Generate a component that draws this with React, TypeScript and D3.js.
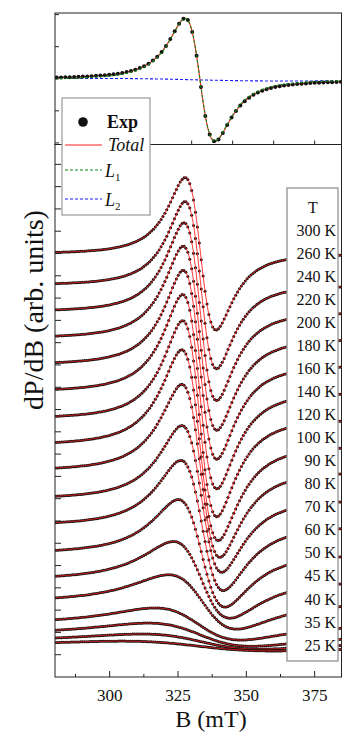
import React from 'react';
import * as d3 from 'd3';

// ---------- data ----------
// legend of temperatures (top to bottom)
const temperatureLabels = ['300 K', '260 K', '240 K', '220 K', '200 K', '180 K', '160 K', '140 K', '120 K', '100 K', '90 K', '80 K', '70 K', '60 K', '50 K', '45 K', '40 K', '35 K', '25 K'];

// stacked spectra (top to bottom): zero level, peak amplitude, field of positive peak, field of negative peak (mT)
const curveOffset = [18.99, 17.58, 16.39, 15.2, 14.01, 12.8, 11.59, 10.4, 9.25, 7.99, 6.8, 5.55, 4.36, 3.37, 2.38, 1.9, 1.59, 1.39];
const curveAmplitude = [3.42, 3.75, 3.99, 4.13, 4.24, 4.36, 4.4, 4.28, 3.88, 3.29, 2.92, 2.41, 1.72, 1.22, 0.72, 0.52, 0.34, 0.22];
const curvePeakB = [327.6, 327.6, 327.2, 326.9, 326.9, 326.7, 326.7, 326.4, 326.4, 326.4, 326.0, 325.1, 323.3, 321.5, 316.6, 314.1, 311.7, 304.4];
const curveTroughB = [338.9, 339.1, 339.1, 339.2, 339.2, 339.2, 339.2, 339.7, 340.3, 341.0, 341.6, 342.2, 344.0, 346.5, 348.0, 352.0, 355.0, 360.0];

// inset decomposition: L1 (narrow) and L2 (broad)
const insetL1 = { amplitude: 1.91, peakB: 327.6, troughB: 338.5 };
const insetL2 = { amplitude: 0.04, peakB: 295.4, troughB: 364.6 };
const insetOffset = -0.03;

const xTicksMajor = [300, 325, 350, 375];
const xTicksMinor = [287.5, 312.5, 337.5, 362.5];
const insetXTicks = [330, 345, 360, 375];
const mainYTicks = d3.range(1, 24);
const insetYTicks = [-2, -1, 0, 1, 2];

// derivative-of-Lorentzian line shape
function lorentzDeriv(B: number, amp: number, peakB: number, troughB: number) {
  const B0 = (peakB + troughB) / 2;
  const hw = (troughB - peakB) / 2;
  const G = hw * Math.sqrt(3);
  const d = B - B0;
  const c = (16 * Math.sqrt(3) * G * G * G) / 9;
  return (-amp * c * d) / Math.pow(d * d + G * G, 2);
}

const FONT = '"Liberation Serif", "Times New Roman", Times, serif';

export default function App() {
  const L = 55, R = 341.5;
  const topT = 13, topB = 144.5, mainB = 677;
  const x = d3.scaleLinear().domain([280, 385]).range([55, 342]);
  const yMain = d3.scaleLinear().domain([0, 23.89]).range([mainB, topB]);
  const yTop = d3.scaleLinear().domain([-2.05, 2.05]).range([topB, topT]);

  const lineGrid = d3.range(280, 385.01, 0.25);
  const dotGridMain = d3.range(280.3, 385, 0.7);
  const dotGridTop = d3.range(280.6, 385, 1.6);

  const mainLine = d3.line<[number, number]>().x(d => x(d[0])).y(d => yMain(d[1]));
  const topLine = d3.line<[number, number]>().x(d => x(d[0])).y(d => yTop(d[1]));

  const spectra = curveOffset.map((off, i) => {
    const f = (B: number) => off + lorentzDeriv(B, curveAmplitude[i], curvePeakB[i], curveTroughB[i]);
    return {
      line: mainLine(lineGrid.map(B => [B, f(B)] as [number, number])) || '',
      dots: dotGridMain.map(B => [B, f(B)] as [number, number]),
    };
  });

  const l1 = (B: number) => lorentzDeriv(B, insetL1.amplitude, insetL1.peakB, insetL1.troughB);
  const l2 = (B: number) => lorentzDeriv(B, insetL2.amplitude, insetL2.peakB, insetL2.troughB);
  const total = (B: number) => insetOffset + l1(B) + l2(B);
  const topTotal = topLine(lineGrid.map(B => [B, total(B)] as [number, number])) || '';
  const topL1 = topLine(lineGrid.map(B => [B, insetOffset + l1(B)] as [number, number])) || '';
  const topL2 = topLine(lineGrid.map(B => [B, insetOffset + l2(B)] as [number, number])) || '';

  const legendRowY = (i: number) => 207 + 23.06 * i;

  return (
    <svg width={342} height={735} style={{ position: 'absolute', left: 0, top: 0, background: '#fff', fontFamily: FONT }}>
      <defs>
        <clipPath id="clipMain"><rect x={L} y={topB} width={R - L} height={mainB - topB} /></clipPath>
        <clipPath id="clipTop"><rect x={L} y={topT} width={R - L} height={topB - topT} /></clipPath>
      </defs>

      {/* inset panel */}
      <g clipPath="url(#clipTop)">
        <path d={topL2} fill="none" stroke="#1a1aff" strokeWidth={1.1} strokeDasharray="3,2" />
        <path d={topTotal} fill="none" stroke="#ff2020" strokeWidth={1.1} />
        {dotGridTop.map((B, j) => (
          <circle key={j} cx={x(B)} cy={yTop(total(B))} r={2} fill="#111" />
        ))}
        <path d={topL1} fill="none" stroke="#118811" strokeWidth={1.1} strokeDasharray="3,2" />
      </g>
      <rect x={L} y={topT} width={R - L} height={topB - topT} fill="none" stroke="#222" strokeWidth={1} />
      {insetYTicks.map(v => (
        <line key={v} x1={L} x2={L + 4} y1={yTop(v)} y2={yTop(v)} stroke="#222" />
      ))}
      {insetXTicks.map(v => (
        <line key={v} x1={x(v)} x2={x(v)} y1={topB} y2={topB - 4} stroke="#222" />
      ))}

      {/* main panel */}
      <g clipPath="url(#clipMain)">
        {spectra.map((s, i) => (
          <g key={i}>
            {s.dots.map((d, j) => (
              <circle key={j} cx={x(d[0])} cy={yMain(d[1])} r={1.5} fill="#111" />
            ))}
            <path d={s.line} fill="none" stroke="#ff2020" strokeWidth={0.9} />
          </g>
        ))}
      </g>
      <rect x={L} y={topB} width={R - L} height={mainB - topB} fill="none" stroke="#222" strokeWidth={1} />
      {mainYTicks.map(v => (
        <line key={v} x1={L} x2={L + 6} y1={yMain(v)} y2={yMain(v)} stroke="#222" />
      ))}
      {xTicksMajor.map(v => (
        <line key={v} x1={x(v)} x2={x(v)} y1={mainB} y2={mainB - 6} stroke="#222" />
      ))}
      {xTicksMinor.map(v => (
        <line key={v} x1={x(v)} x2={x(v)} y1={mainB} y2={mainB - 3} stroke="#222" />
      ))}
      {xTicksMajor.map(v => (
        <text key={v} x={x(v)} y={701} fontSize={17} textAnchor="middle" fill="#111">{v}</text>
      ))}
      <text x={211} y={727} fontSize={24} textAnchor="middle" fill="#111">B (mT)</text>
      <text transform="translate(43,310) rotate(-90)" fontSize={28} textAnchor="middle" fill="#111">dP/dB (arb. units)</text>

      {/* series legend */}
      <rect x={62} y={98} width={88} height={117} fill="#fff" stroke="#999" strokeWidth={1.2} />
      <circle cx={83} cy={122} r={4.8} fill="#111" />
      <text x={107} y={128} fontSize={18} fontWeight="bold" fill="#111">Exp</text>
      <line x1={65} x2={102} y1={145} y2={145} stroke="#ff2020" strokeWidth={1.2} />
      <text x={108} y={151} fontSize={18} fontStyle="italic" fill="#111">Total</text>
      <line x1={65} x2={102} y1={170} y2={170} stroke="#118811" strokeWidth={1.2} strokeDasharray="3,2" />
      <text x={105} y={177} fontSize={18} fontStyle="italic" fill="#111">L<tspan fontSize={11} dy={4} fontStyle="normal">1</tspan></text>
      <line x1={65} x2={102} y1={199} y2={199} stroke="#1a1aff" strokeWidth={1.2} strokeDasharray="3,2" />
      <text x={105} y={206} fontSize={18} fontStyle="italic" fill="#111">L<tspan fontSize={11} dy={4} fontStyle="normal">2</tspan></text>

      {/* temperature legend */}
      <rect x={287} y={188} width={51} height={473} fill="#fff" stroke="#999" strokeWidth={1.4} />
      <text x={313} y={legendRowY(0) + 5.5} fontSize={16} textAnchor="middle" fill="#111">T</text>
      {temperatureLabels.map((t, i) => (
        <text key={t} x={336} y={legendRowY(i + 1) + 5.5} fontSize={16} textAnchor="end" fill="#111">{t}</text>
      ))}
    </svg>
  );
}
